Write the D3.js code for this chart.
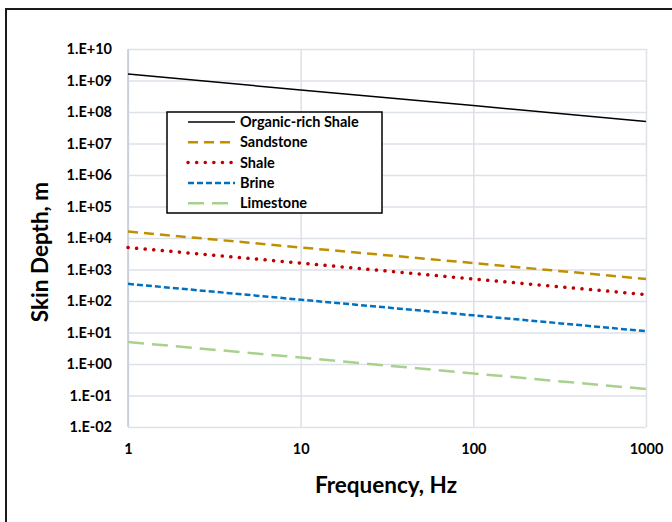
<!DOCTYPE html>
<html lang="en">
<head>
    <meta charset="UTF-8">
    <title>Skin Depth vs Frequency</title>
    <script src="https://cdn.jsdelivr.net/npm/d3@7"></script>
    <style>
        body { margin: 0; background: #fff; }
        text { font-family: Lato, "Open Sans", sans-serif; font-weight: bold; fill: #000; }
    </style>
</head>
<body>
    <div class="container"></div>
    <script>
        // Data (frequency in Hz, skin depth in m)
        const frequencies = [1, 10, 100, 1000];
        const organicRichShale = [1.6e9, 5.0e8, 1.6e8, 5.0e7];
        const sandstone = [1.6e4, 5.0e3, 1.6e3, 5.0e2];
        const shale = [5.0e3, 1.6e3, 5.0e2, 1.6e2];
        const brine = [3.5e2, 1.1e2, 3.5e1, 1.1e1];
        const limestone = [5.0, 1.6, 0.5, 0.16];

        const seriesNames = ["Organic-rich Shale", "Sandstone", "Shale", "Brine", "Limestone"];
        const xTicks = [1, 10, 100, 1000];
        const yTicks = [1e10, 1e9, 1e8, 1e7, 1e6, 1e5, 1e4, 1e3, 1e2, 1e1, 1e0, 1e-1, 1e-2];

        const series = [
            { name: seriesNames[0], values: organicRichShale, color: "#000000", width: 1.5, dash: null, cap: "butt" },
            { name: seriesNames[1], values: sandstone, color: "#bf9000", width: 2.5, dash: "10,6", cap: "butt" },
            { name: seriesNames[2], values: shale, color: "#c00000", width: 3.5, dash: "0.1,8.5", cap: "round" },
            { name: seriesNames[3], values: brine, color: "#0070c0", width: 2.5, dash: "6,3", cap: "butt" },
            { name: seriesNames[4], values: limestone, color: "#a9d18e", width: 2.5, dash: "16,8", cap: "butt" }
        ];

        const width = 672;
        const height = 522;
        const marginTop = 49;
        const marginRight = 26;
        const marginBottom = 95;
        const marginLeft = 128;

        const x = d3.scaleLog()
            .domain([1, 1000])
            .range([marginLeft, width - marginRight]);

        const y = d3.scaleLog()
            .domain([1e-2, 1e10])
            .range([height - marginBottom, marginTop]);

        const svg = d3.create("svg")
            .attr("width", width)
            .attr("height", height)
            .attr("viewBox", [0, 0, width, height]);

        // outer chart border (runs off the right/bottom of the picture)
        svg.append("rect")
            .attr("x", 6).attr("y", 9)
            .attr("width", width + 10).attr("height", height + 10)
            .attr("fill", "none")
            .attr("stroke", "#1a1a1a")
            .attr("stroke-width", 2);

        // horizontal grid
        svg.append("g")
            .attr("transform", `translate(${marginLeft},0)`)
            .call(d3.axisLeft(y).tickValues(yTicks).tickSize(-(width - marginLeft - marginRight)).tickFormat(""))
            .call(g => g.select(".domain").remove())
            .call(g => g.selectAll("line").attr("stroke", "#dde1e8").attr("stroke-width", 1.5));

        // vertical grid
        svg.append("g")
            .attr("transform", `translate(0,${height - marginBottom})`)
            .call(d3.axisBottom(x).tickValues(xTicks).tickSize(-(height - marginTop - marginBottom)).tickFormat(""))
            .call(g => g.select(".domain").remove())
            .call(g => g.selectAll("line").attr("stroke", "#dde1e8").attr("stroke-width", 1.5));

        // left axis line
        svg.append("line")
            .attr("x1", x(1)).attr("x2", x(1))
            .attr("y1", y(1e10)).attr("y2", y(1e-2))
            .attr("stroke", "#c3cbd8").attr("stroke-width", 1.5);

        // y tick labels
        const fmtY = v => {
            const e = Math.round(Math.log10(v));
            return "1.E" + (e >= 0 ? "+" : "-") + String(Math.abs(e)).padStart(2, "0");
        };
        svg.append("g")
            .attr("transform", `translate(${marginLeft},0)`)
            .call(d3.axisLeft(y).tickValues(yTicks).tickSize(0).tickPadding(16).tickFormat(fmtY))
            .call(g => g.select(".domain").remove())
            .call(g => g.selectAll("text").attr("font-size", 14.5).attr("fill", "#000"));

        // x tick labels
        svg.append("g")
            .attr("transform", `translate(0,${height - marginBottom})`)
            .call(d3.axisBottom(x).tickValues(xTicks).tickSize(0).tickPadding(17).tickFormat(d3.format("d")))
            .call(g => g.select(".domain").remove())
            .call(g => g.selectAll("text").attr("font-size", 14.5).attr("fill", "#000"));

        // lines
        const line = d3.line()
            .x((d, i) => x(frequencies[i]))
            .y(d => y(d));

        svg.append("g")
            .selectAll("path")
            .data(series)
            .join("path")
                .attr("d", d => line(d.values))
                .attr("fill", "none")
                .attr("stroke", d => d.color)
                .attr("stroke-width", d => d.width)
                .attr("stroke-dasharray", d => d.dash)
                .attr("stroke-linecap", d => d.cap);

        // axis titles
        svg.append("text")
            .attr("x", 386)
            .attr("y", 493)
            .attr("text-anchor", "middle")
            .attr("font-size", 22.5)
            .text("Frequency, Hz");

        svg.append("text")
            .attr("transform", "translate(48,252) rotate(-90)")
            .attr("text-anchor", "middle")
            .attr("font-size", 22.5)
            .text("Skin Depth, m");

        // legend
        const legend = svg.append("g").attr("transform", "translate(167,112)");
        legend.append("rect")
            .attr("width", 215).attr("height", 101)
            .attr("fill", "#fff")
            .attr("stroke", "#000").attr("stroke-width", 1.5);

        const item = legend.selectAll("g")
            .data(series)
            .join("g")
                .attr("transform", (d, i) => `translate(0,${10 + i * 20.3})`);

        item.append("line")
            .attr("x1", 21).attr("x2", 68)
            .attr("stroke", d => d.color)
            .attr("stroke-width", d => d.width)
            .attr("stroke-dasharray", d => d.dash)
            .attr("stroke-linecap", d => d.cap);

        item.append("text")
            .attr("x", 73)
            .attr("dy", "0.35em")
            .attr("font-size", 14.5)
            .text(d => d.name);

        document.querySelector(".container").appendChild(svg.node());
    </script>
</body>
</html>
